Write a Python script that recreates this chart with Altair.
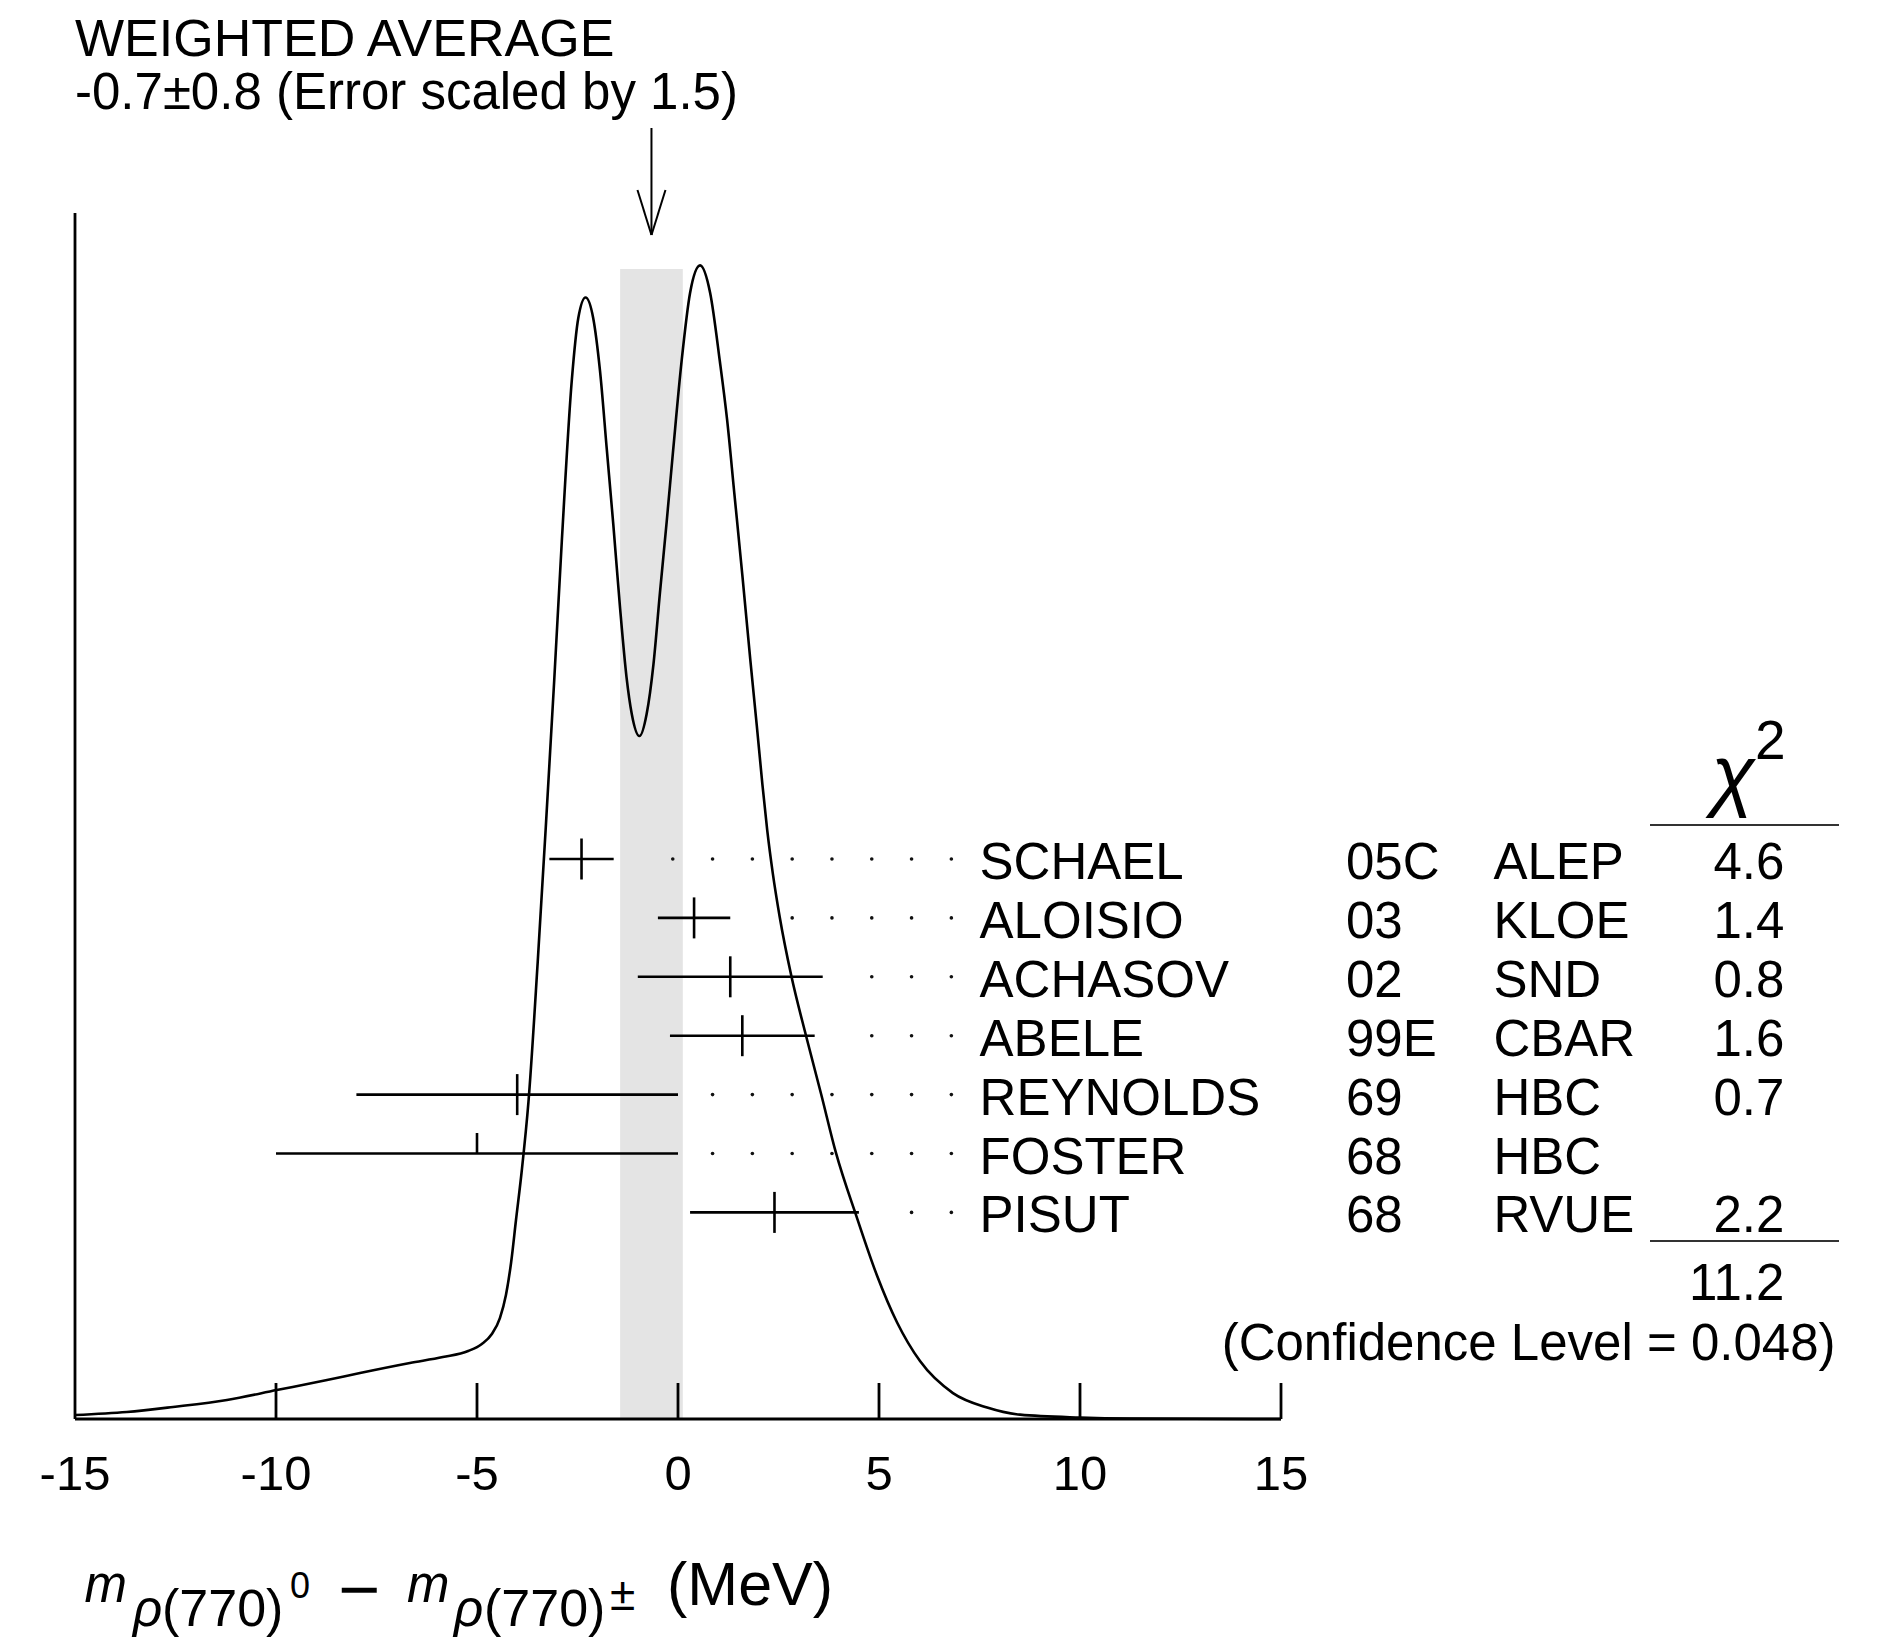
import altair as alt
import pandas as pd

# ---------------- data ----------------
names = ["SCHAEL", "ALOISIO", "ACHASOV", "ABELE", "REYNOLDS", "FOSTER", "PISUT"]
years = ["05C", "03", "02", "99E", "69", "68", "68"]
experiments = ["ALEP", "KLOE", "SND", "CBAR", "HBC", "HBC", "RVUE"]
values = [-2.4, 0.4, 1.3, 1.6, -4.0, -5.0, 2.4]
errors = [0.8, 0.9, 2.3, 1.8, 4.0, 5.0, 2.1]
chi2 = ["4.6", "1.4", "0.8", "1.6", "0.7", "", "2.2"]
chi2_total = "11.2"
confidence = "(Confidence Level = 0.048)"
avg_value = -0.66
avg_error = 0.78
title_1 = "WEIGHTED AVERAGE"
title_2 = "-0.7±0.8 (Error scaled by 1.5)"

# ideogram curve (x in MeV, y relative to the height of the vertical axis)
curve_x = [-15.0, -13.71, -12.56, -11.22, -9.98, -8.73, -7.91, -6.67, -5.85, -5.22,
           -4.88, -4.63, -4.43, -4.28, -4.15, -4.03, -3.89, -3.72, -3.49, -3.28,
           -3.08, -2.89, -2.64, -2.48, -2.30, -2.11, -1.94, -1.77, -1.61, -1.44,
           -1.28, -1.15, -0.96, -0.78, -0.61, -0.45, -0.28, -0.12, 0.09, 0.30,
           0.55, 0.80, 1.04, 1.22, 1.40, 1.60, 1.80, 1.96, 2.10, 2.22,
           2.36, 2.53, 2.82, 3.18, 3.56, 3.93, 4.45, 4.95, 5.45, 6.02,
           6.84, 7.69, 8.51, 10.0, 11.24, 15.0]
curve_y = [0.0033, 0.0058, 0.0100, 0.0158, 0.0240, 0.0323, 0.0381, 0.0464, 0.0514, 0.0564,
           0.0622, 0.0705, 0.0837, 0.1028, 0.1302, 0.1650, 0.2048, 0.2629, 0.3789, 0.4959,
           0.6119, 0.7280, 0.8620, 0.9129, 0.9299, 0.9129, 0.8690, 0.8035, 0.7420, 0.6720,
           0.6150, 0.5846, 0.5663, 0.5846, 0.6260, 0.6849, 0.7446, 0.8035, 0.8773, 0.9337,
           0.9566, 0.9337, 0.8773, 0.8290, 0.7680, 0.7000, 0.6290, 0.5750, 0.5260, 0.4880,
           0.4520, 0.4163, 0.3673, 0.3184, 0.2695, 0.2206, 0.1670, 0.1190, 0.0800, 0.0480,
           0.0215, 0.0095, 0.0036, 0.0012, 0.0004, 0.0]
tick_values = [-15, -10, -5, 0, 5, 10, 15]

# ---------------- layout (pixels) ----------------
W, H = 1891, 1641
X0PX, PXU = 75.0, 40.2          # pixel of x=-15, pixels per MeV
BASE, YU = 1419.0, 1206.0       # pixel of baseline, pixels per unit height
FONT = "Liberation Sans"
FS = 51


def ux(px):
    return -15 + (px - X0PX) / PXU


def uy(py):
    return (BASE - py) / YU


XS = alt.Scale(domain=[ux(0), ux(W)], nice=False, zero=False)
YS = alt.Scale(domain=[uy(H), uy(0)], nice=False, zero=False)


def X(f="x"):
    return alt.X(f"{f}:Q", scale=XS, axis=None)


def Y(f="y"):
    return alt.Y(f"{f}:Q", scale=YS, axis=None)


def text_layer(rows, align="left", size=FS, style="normal", font=FONT):
    df = pd.DataFrame(rows, columns=["x", "y", "t"])
    return alt.Chart(df).mark_text(
        align=align, baseline="alphabetic", fontSize=size, font=font,
        fontStyle=style, color="black"
    ).encode(x=X(), y=Y(), text="t:N")


ROW0, ROWSTEP = 859.0, 58.9
TICK_H = 20.5 / YU
LW = 2.6

# ---------------- rows ----------------
rows = []
for i, n in enumerate(names):
    ry = uy(ROW0 + i * ROWSTEP)
    rows.append(dict(name=n, year=years[i], exp=experiments[i], chi=chi2[i],
                     v=values[i], lo=values[i] - errors[i], hi=values[i] + errors[i],
                     y=ry, ylo=ry - TICK_H if chi2[i] else ry, yhi=ry + TICK_H,
                     ytext=uy(ROW0 + i * ROWSTEP + 20)))
rdf = pd.DataFrame(rows)

# leader dots on a regular grid, starting clear of each error bar
dots = []
for r in rows:
    for k in range(0, 25):
        gx = -8.05 + k * 0.99
        if gx > r["hi"] + 0.6 and gx < 7.2:
            dots.append(dict(x=gx, y=r["y"]))
ddf = pd.DataFrame(dots)

band = alt.Chart(pd.DataFrame([dict(x=avg_value - avg_error, x2=avg_value + avg_error,
                                    y=0.0, y2=uy(269))])).mark_rect(
    color="#e4e4e4").encode(x=X(), x2="x2:Q", y=Y(), y2="y2:Q")

curve = alt.Chart(pd.DataFrame(dict(x=curve_x, y=curve_y))).mark_line(
    color="black", strokeWidth=LW, interpolate="monotone").encode(x=X(), y=Y())

# axes drawn as rules
axis_df = pd.DataFrame([
    dict(x=-15, x2=15, y=0.0, y2=0.0),
    dict(x=-15, x2=-15, y=0.0, y2=1.0),
] + [dict(x=t, x2=t, y=0.0, y2=36 / YU) for t in tick_values[1:]])
axes = alt.Chart(axis_df).mark_rule(color="black", strokeWidth=2.8).encode(
    x=X(), x2="x2:Q", y=Y(), y2="y2:Q")

tick_labels = text_layer([(t, uy(1490), str(t)) for t in tick_values], align="center", size=49)

# error bars
bars = alt.Chart(rdf).mark_rule(color="black", strokeWidth=LW).encode(
    x=X("lo"), x2="hi:Q", y=Y(), y2="y:Q")
centers = alt.Chart(rdf).mark_rule(color="black", strokeWidth=LW).encode(
    x=X("v"), x2="v:Q", y=Y("ylo"), y2="yhi:Q")
dot_layer = alt.Chart(ddf).mark_circle(color="#111", size=13, opacity=1).encode(x=X(), y=Y())


def column(field, px, align="left"):
    return alt.Chart(rdf).mark_text(
        align=align, baseline="alphabetic", fontSize=FS, font=FONT, color="black"
    ).transform_calculate(nx=str(ux(px))).encode(
        x=alt.X("nx:Q", scale=XS, axis=None), y=Y("ytext"), text=f"{field}:N")


names_t = column("name", 979.6)
years_t = column("year", 1346)
exps_t = column("exp", 1493.4)
chi_t = column("chi", 1784.4, align="right")

# chi2 header / total rules
chi_rules = alt.Chart(pd.DataFrame([
    dict(x=ux(1650), x2=ux(1839), y=uy(825)),
    dict(x=ux(1650), x2=ux(1839), y=uy(1241)),
])).mark_rule(color="#333", strokeWidth=2).encode(x=X(), x2="x2:Q", y=Y(), y2="y:Q")

chi_symbol = text_layer([(ux(1733), uy(801), "χ")], align="center", size=80, style="italic")
chi_sup = text_layer([(ux(1755), uy(759), "2")], align="left", size=55)
total_t = text_layer([(ux(1784.4), uy(1300), chi2_total)], align="right")
conf_t = text_layer([(ux(1835.5), uy(1360), confidence)], align="right")

title_a = text_layer([(ux(75), uy(56), title_1)], align="left", size=52)
title_b = text_layer([(ux(75), uy(109), title_2)], align="left", size=51)

# arrow at the weighted average
arrow_df = pd.DataFrame([
    dict(x=avg_value, x2=avg_value, y=uy(128), y2=uy(235)),
    dict(x=avg_value - 14 / PXU, x2=avg_value, y=uy(190), y2=uy(235)),
    dict(x=avg_value + 14 / PXU, x2=avg_value, y=uy(190), y2=uy(235)),
])
arrow = alt.Chart(arrow_df).mark_rule(color="black", strokeWidth=2).encode(
    x=X(), x2="x2:Q", y=Y(), y2="y2:Q")

# x-axis label: m_rho(770)^0 - m_rho(770)^± (MeV)
lab_m = text_layer([(ux(84.5), uy(1602), "m"), (ux(407), uy(1602), "m")], size=FS, style="italic")
lab_rho = text_layer([(ux(133), uy(1626), "ρ"), (ux(454), uy(1626), "ρ")], size=FS, style="italic")
lab_770 = text_layer([(ux(162), uy(1626), "(770)"), (ux(484), uy(1626), "(770)")], size=52)
lab_sup0 = text_layer([(ux(290), uy(1598), "0")], size=36)
lab_minus = text_layer([(ux(338), uy(1614), "−")], size=72)
lab_pm = text_layer([(ux(610), uy(1610), "±")], size=46)
lab_mev = text_layer([(ux(667), uy(1605), "(MeV)")], size=61)

chart = alt.layer(
    band, axes, curve, bars, centers, dot_layer, tick_labels,
    names_t, years_t, exps_t, chi_t, chi_rules, chi_symbol, chi_sup, total_t, conf_t,
    title_a, title_b, arrow, lab_m, lab_rho, lab_770, lab_sup0, lab_minus, lab_pm, lab_mev,
).properties(
    width=W, height=H, padding=0,
    autosize=alt.AutoSizeParams(type="none"),
    background="white",
).configure_view(stroke=None)

chart.save("out.html", embed_options={"renderer": "svg", "actions": False})
